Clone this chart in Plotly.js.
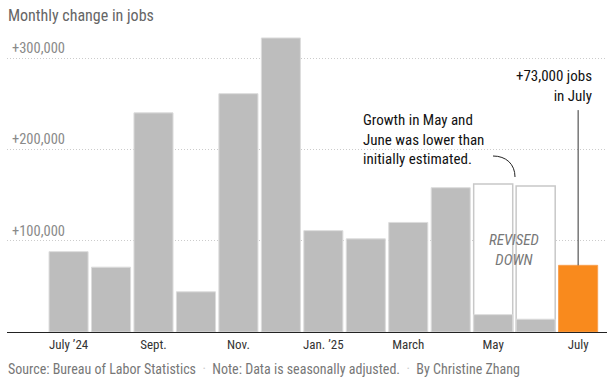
<!DOCTYPE html>
<html>
<head>
<meta charset="utf-8">
<script src="https://cdn.plot.ly/plotly-3.0.1.min.js"></script>
<style>html,body{margin:0;padding:0;background:#fff;}#chart{width:616px;height:381px;}</style>
</head>
<body>
<div id="chart"></div>
<script>
// Months (categories)
const months = ["Jul 2024","Aug 2024","Sep 2024","Oct 2024","Nov 2024","Dec 2024","Jan 2025","Feb 2025","Mar 2025","Apr 2025","May 2025","Jun 2025","Jul 2025"];
// Monthly change in jobs (current estimates)
const jobs = [88000, 71000, 240000, 44000, 261000, 322000, 111000, 102000, 120000, 158000, 19000, 14000, 73000];
// Initial estimates for revised months
const initialEstimates = [null, null, null, null, null, null, null, null, null, null, 162000, 160000, null];
// Axis labels
const xTickVals = ["Jul 2024","Sep 2024","Nov 2024","Jan 2025","Mar 2025","May 2025","Jul 2025"];
const xTickText = ["July \u201924","Sept.","Nov.","Jan. \u201925","March","May","July"];
const yTickVals = [100000, 200000, 300000];
const yTickText = ["+100,000","+200,000","+300,000"];

const FONT = "'Liberation Sans Narrow', 'Arial Narrow', 'Roboto Condensed', Roboto, sans-serif";
const GREY = "#bdbdbd", ORANGE = "#f98a1d";
const L = 7, T = 22, W = 600, H = 310;
const px = x => (x - L) / W;
const py = y => (T + H - y) / H;

const barColors = jobs.map((v, i) => i === jobs.length - 1 ? ORANGE : GREY);
const barLines = jobs.map((v, i) => i === jobs.length - 1 ? "#f9a050" : "#dcdcdc");

const traces = [
  {
    type: "bar", x: months, y: initialEstimates,
    marker: {color: "#ffffff", line: {color: "#c8c8c8", width: 1.5}},
    hoverinfo: "skip", showlegend: false
  },
  {
    type: "bar", x: months, y: jobs,
    marker: {color: barColors, line: {color: barLines, width: 1}},
    showlegend: false
  }
];

const ann = (text, x, y, opts) => Object.assign({
  text: text, x: x, y: y, xref: "paper", yref: "paper",
  showarrow: false, xanchor: "left", yanchor: "middle",
  font: {family: FONT, size: 15, color: "#121212"}
}, opts || {});

const sep = '  <span style="color:#cccccc">\u00b7</span>  ';

const layout = {
  width: 616, height: 381,
  margin: {l: L, r: 616 - L - W, t: T, b: 381 - T - H},
  paper_bgcolor: "#fff", plot_bgcolor: "#fff",
  font: {family: FONT, size: 13, color: "#333"},
  barmode: "overlay", bargap: 0.08,
  title: {
    text: "Monthly change in jobs", xref: "container", yref: "container",
    x: 8 / 616, xanchor: "left", y: 1 - 15 / 381, yanchor: "middle",
    font: {family: FONT, size: 16, color: "#666"}
  },
  xaxis: {
    type: "category", categoryorder: "array", categoryarray: months,
    range: [-1.45, 12.68], tickvals: xTickVals, ticktext: xTickText,
    showgrid: false, showline: true, linecolor: "#222", linewidth: 1,
    ticks: "", tickfont: {family: FONT, size: 13, color: "#333"}, fixedrange: true
  },
  yaxis: {
    range: [0, 339500], tickvals: yTickVals, ticktext: yTickText,
    ticklabelposition: "inside top", ticklabelstandoff: 2,
    showgrid: true, gridcolor: "#cccccc", griddash: "1px,2px", gridwidth: 1,
    zeroline: false, showline: false, ticks: "",
    tickfont: {family: FONT, size: 14.5, color: "#8a8a8a"}, fixedrange: true
  },
  shapes: [
    {type: "line", xref: "x", yref: "y", x0: "Jul 2025", x1: "Jul 2025", y0: 73000, y1: 243000,
     line: {color: "#333", width: 1}},
    {type: "path", xref: "paper", yref: "paper",
     path: `M ${px(493)},${py(156)} C ${px(506)},${py(156)} ${px(515)},${py(164)} ${px(515)},${py(177)}`,
     line: {color: "#222", width: 1}}
  ],
  annotations: [
    ann("+73,000 jobs<br>in July", px(594), py(86.5), {xanchor: "right", align: "right"}),
    ann("Growth in May and<br>June was lower than<br>initially estimated.", px(361), py(139), {align: "left"}),
    ann("REVISED<br>DOWN", px(514), py(249.5), {xanchor: "center", align: "center",
        font: {family: FONT, size: 15, color: "#777", style: "italic"}}),
    ann("Source: Bureau of Labor Statistics" + sep + "Note: Data is seasonally adjusted." + sep + "By Christine Zhang",
        px(6), py(369), {font: {family: FONT, size: 14, color: "#777"}})
  ]
};

Plotly.newPlot("chart", traces, layout, {displayModeBar: false, staticPlot: true});
</script>
</body>
</html>
